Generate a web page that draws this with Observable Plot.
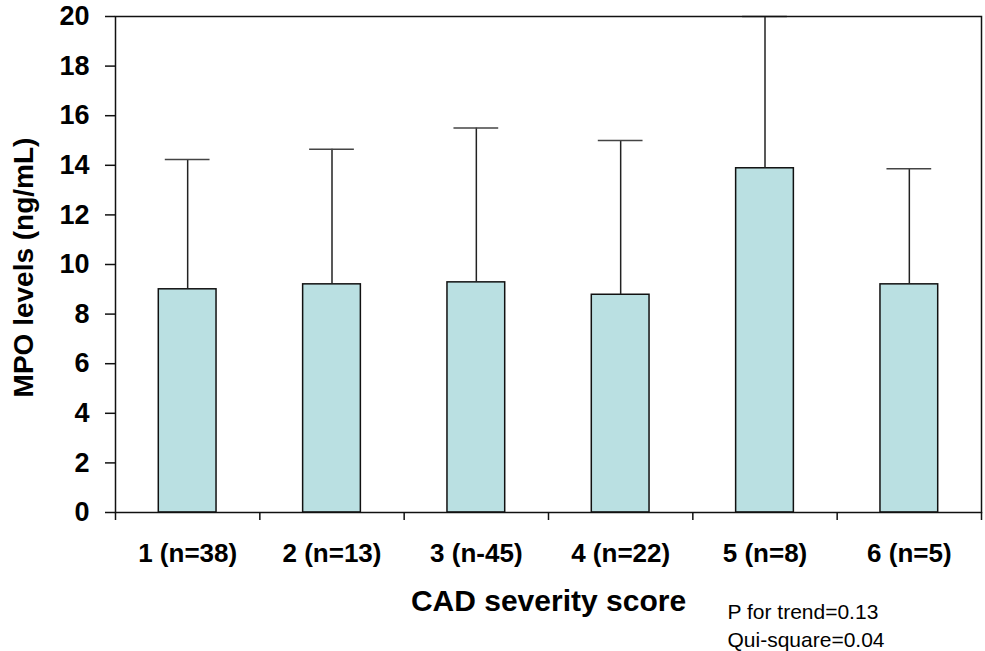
<!DOCTYPE html>
<html>
<head>
<meta charset="utf-8">
<script src="https://cdn.jsdelivr.net/npm/d3@7"></script>
<script src="https://cdn.jsdelivr.net/npm/@observablehq/plot@0.6"></script>
<style>
  html, body { margin: 0; padding: 0; background: #ffffff; }
  #chart svg { display: block; }
</style>
</head>
<body>
<div id="chart"></div>
<script>
// Data
const categories = ["1 (n=38)", "2 (n=13)", "3 (n-45)", "4 (n=22)", "5 (n=8)", "6 (n=5)"];
const means      = [9.0, 9.2, 9.28, 8.78, 13.88, 9.2];
const upper      = [14.23, 14.65, 15.5, 15.0, 20.0, 13.86];
const yTicks     = [0, 2, 4, 6, 8, 10, 12, 14, 16, 18, 20];
const xTitle = "CAD severity score";
const yTitle = "MPO levels (ng/mL)";
const notes  = ["P for trend=0.13", "Qui-square=0.04"];

const data = categories.map((c, i) => ({pos: i + 1, label: c, mean: means[i], upper: upper[i]}));
const boundaries = d3.range(0.5, categories.length + 1, 1);

const barHalf = 0.2;   // bar half-width in band units
const capHalf = 0.155; // error cap half-width in band units
const font = "'Liberation Sans', Arial, Helvetica, sans-serif";

const chart = Plot.plot({
  width: 985,
  height: 651,
  marginLeft: 115,
  marginRight: 4,
  marginTop: 16,
  marginBottom: 139,
  style: {fontFamily: font, background: "#ffffff", color: "#000"},
  x: {type: "linear", domain: [0.5, categories.length + 0.5]},
  y: {domain: [0, 20]},
  marks: [
    Plot.rectY(data, {
      x1: d => d.pos - barHalf, x2: d => d.pos + barHalf,
      y1: 0, y2: "mean",
      fill: "#bae0e2", stroke: "#111", strokeWidth: 1.5
    }),
    Plot.ruleX(data, {x: "pos", y1: "mean", y2: "upper", stroke: "#222", strokeWidth: 1.5}),
    Plot.ruleY(data, {
      y: "upper", x1: d => d.pos - capHalf, x2: d => d.pos + capHalf,
      stroke: "#444", strokeWidth: 1.5
    }),
    Plot.frame({stroke: "#111", strokeWidth: 1.5}),
    Plot.axisY({
      ticks: yTicks, tickSize: 10, tickPadding: 16, tickFormat: d => String(d),
      fontSize: 27, fontWeight: "bold", label: null, stroke: "#111", strokeWidth: 1.5
    }),
    Plot.axisX({
      ticks: data.map(d => d.pos), tickSize: 0, tickPadding: 31,
      tickFormat: v => categories[v - 1],
      fontSize: 26, fontWeight: "bold", label: null
    }),
    Plot.axisX({
      ticks: boundaries, tickSize: 8, tickFormat: () => "", label: null,
      stroke: "#111", strokeWidth: 1.5
    }),
    Plot.text([yTitle], {
      frameAnchor: "left", rotate: -90, dx: -91, dy: 3,
      fontSize: 28, fontWeight: "bold", fill: "#000", textAnchor: "middle", lineAnchor: "middle"
    }),
    Plot.text([xTitle], {
      frameAnchor: "bottom", dy: 89,
      fontSize: 30, fontWeight: "bold", fill: "#000", textAnchor: "middle", lineAnchor: "middle"
    }),
    Plot.text([notes.join("\n")], {
      frameAnchor: "bottom-left", dx: 612, dy: 112, lineHeight: 1.33,
      fontSize: 21, fill: "#000", textAnchor: "start", lineAnchor: "middle"
    })
  ]
});
document.getElementById("chart").appendChild(chart);
</script>
</body>
</html>
